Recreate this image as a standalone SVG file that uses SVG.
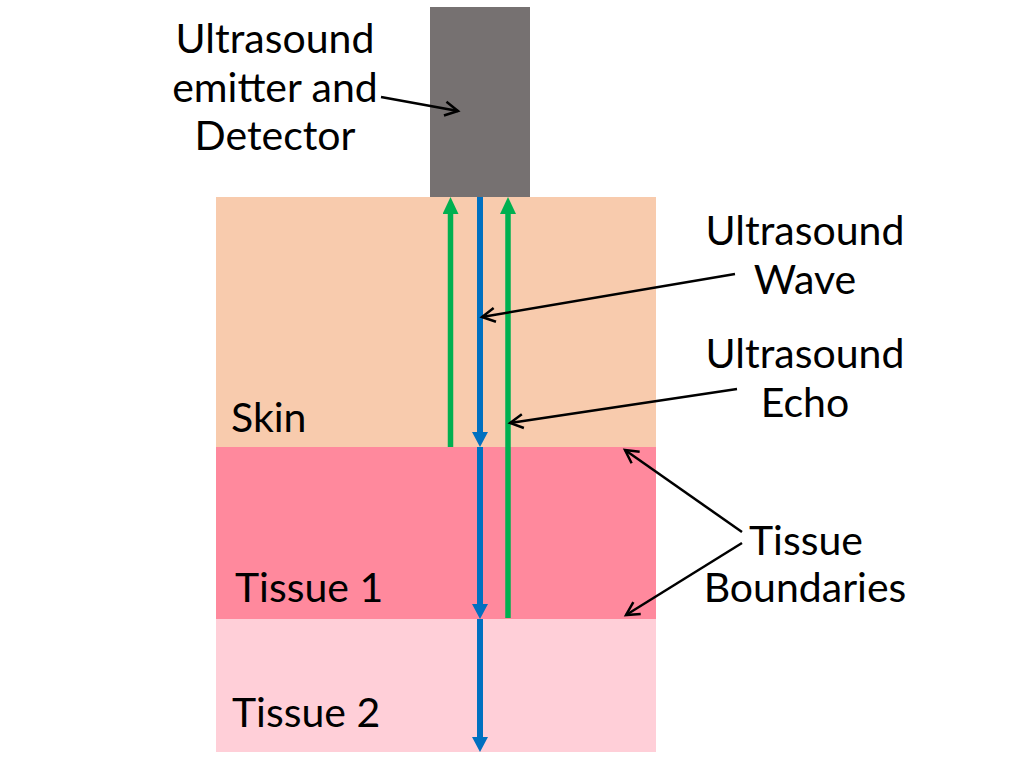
<svg xmlns="http://www.w3.org/2000/svg" width="1024" height="769" viewBox="0 0 1024 769">
<style>
text{font-family:Lato,"Liberation Sans",sans-serif;font-size:41px;fill:#000}
.c{text-anchor:middle}
.k{stroke:#000;stroke-width:2.5;fill:none}
.b{stroke:#0070C0;stroke-width:6;fill:none}
.g{stroke:#00B050;stroke-width:5.5;fill:none}
</style>
<defs>
<marker id="ab" markerUnits="userSpaceOnUse" viewBox="0 0 15 16" markerWidth="15" markerHeight="16" refX="1" refY="8" orient="auto"><path d="M0,0 L15,8 L0,16 z" fill="#0070C0"/></marker>
<marker id="ag" markerUnits="userSpaceOnUse" viewBox="0 0 17 16" markerWidth="17" markerHeight="16" refX="1" refY="8" orient="auto"><path d="M0,0 L17,8 L0,16 z" fill="#00B050"/></marker>
<marker id="ak" markerUnits="userSpaceOnUse" viewBox="0 0 18 18" markerWidth="18" markerHeight="18" refX="15" refY="9" orient="auto"><path d="M2,2 L15,9 L2,16" fill="none" stroke="#000" stroke-width="2.5"/></marker>
</defs>
<g id="skin"><rect x="216" y="197" width="440" height="250" fill="#F8CBAD"/><text x="231" y="432">Skin</text></g>
<g id="tissue1"><rect x="216" y="447" width="440" height="172" fill="#FF899D"/><text x="235" y="602">Tissue 1</text></g>
<g id="tissue2"><rect x="216" y="619" width="440" height="133" fill="#FFCFD8"/><text x="232" y="727">Tissue 2</text></g>
<g id="probe"><rect x="430" y="7" width="100" height="190" fill="#767171"/></g>
<g id="probe-label"><text class="c" x="275" y="53">Ultrasound</text><text class="c" x="275" y="102">emitter and</text><text class="c" x="275" y="150">Detector</text></g>
<g id="wave-label"><text class="c" x="805" y="245">Ultrasound</text><text class="c" x="805" y="294">Wave</text></g>
<g id="echo-label"><text class="c" x="805" y="368">Ultrasound</text><text class="c" x="805" y="417">Echo</text></g>
<g id="boundary-label"><text x="749" y="555">Tissue</text><text class="c" x="805" y="602">Boundaries</text></g>
<g id="connectors">
<line class="b" x1="480" y1="197" x2="480" y2="433" marker-end="url(#ab)"/>
<line class="b" x1="480" y1="447" x2="480" y2="605" marker-end="url(#ab)"/>
<line class="b" x1="480" y1="619" x2="480" y2="738" marker-end="url(#ab)"/>
<line class="g" x1="450.5" y1="447" x2="450.5" y2="213" marker-end="url(#ag)"/>
<line class="g" x1="508" y1="618" x2="508" y2="213" marker-end="url(#ag)"/>
<line class="k" x1="381" y1="97" x2="458" y2="111" marker-end="url(#ak)"/>
<line class="k" x1="735" y1="274" x2="482" y2="317" marker-end="url(#ak)"/>
<line class="k" x1="737" y1="389" x2="510" y2="423" marker-end="url(#ak)"/>
<line class="k" x1="742" y1="532" x2="625" y2="450" marker-end="url(#ak)"/>
<line class="k" x1="742" y1="543" x2="626" y2="615" marker-end="url(#ak)"/>
</g>
</svg>
